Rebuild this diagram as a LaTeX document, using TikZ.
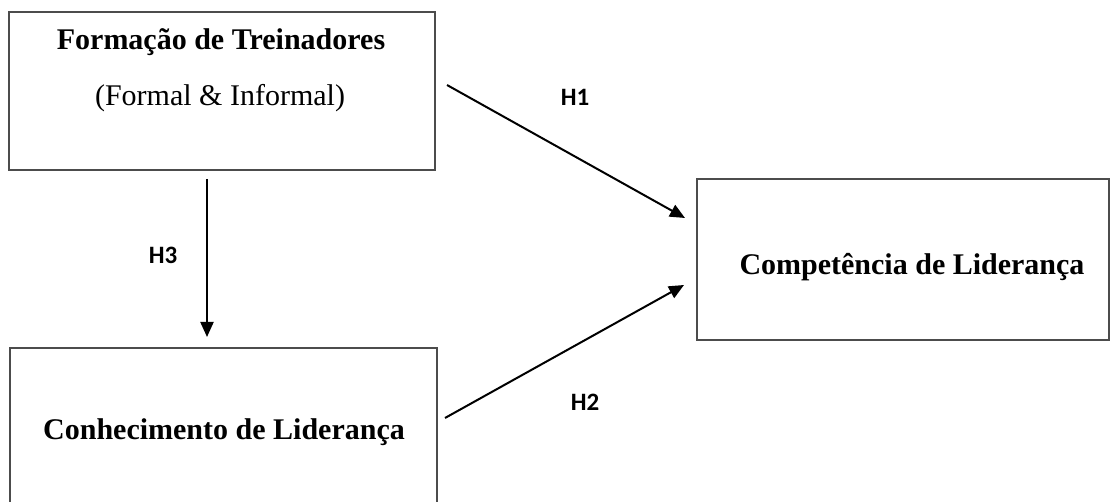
\documentclass[tikz,border=0pt]{standalone}
\usepackage{fontspec}
\setmainfont{Liberation Serif}
\newfontfamily\lblfont{Carlito}
\usetikzlibrary{arrows.meta}
\begin{document}
\begin{tikzpicture}[x=1pt,y=-1pt,
  box/.style={draw=black!70, line width=2pt, inner sep=0pt, outer sep=0pt},
  txt/.style={font=\fontsize{30}{35}\selectfont\bfseries, inner sep=0pt},
  txtreg/.style={font=\fontsize{30}{35}\selectfont, inner sep=0pt},
  lab/.style={font=\lblfont\fontsize{25}{30}\selectfont\bfseries, inner sep=0pt},
  arr/.style={line width=2pt, -{Triangle[length=15pt,width=13pt]}}]
\useasboundingbox (0,0) rectangle (1112,502);
\clip (0,0) rectangle (1112,502);
% boxes
\node[box, minimum width=426pt, minimum height=158pt] (ft) at (222,91) {};
\node[box, minimum width=427pt, minimum height=172pt] (cl) at (223.5,434) {};
\node[box, minimum width=412pt, minimum height=161pt] (cp) at (903,259.5) {};
% texts
\node[txt] (ftA) at (221,42) {Formação de Treinadores};
\node[txtreg] (ftB) at (220,98) {(Formal \& Informal)};
\node[txt] (clT) at (224,432) {Conhecimento de Liderança};
\node[txt] (cpT) at (912,267) {Competência de Liderança};
% connector end points
\coordinate (h1s) at (447,85);
\coordinate (h1e) at (685,218);
\coordinate (h2s) at (445,418);
\coordinate (h2e) at (684,285);
\coordinate (h3s) at (207,179);
\coordinate (h3e) at (207,337);
\draw[arr] (h1s) -- (h1e);
\draw[arr] (h2s) -- (h2e);
\draw[arr] (h3s) -- (h3e);
% labels
\node[lab] (H1) at (575,97) {H1};
\node[lab] (H2) at (585,402) {H2};
\node[lab] (H3) at (163,255) {H3};
\end{tikzpicture}
\end{document}
